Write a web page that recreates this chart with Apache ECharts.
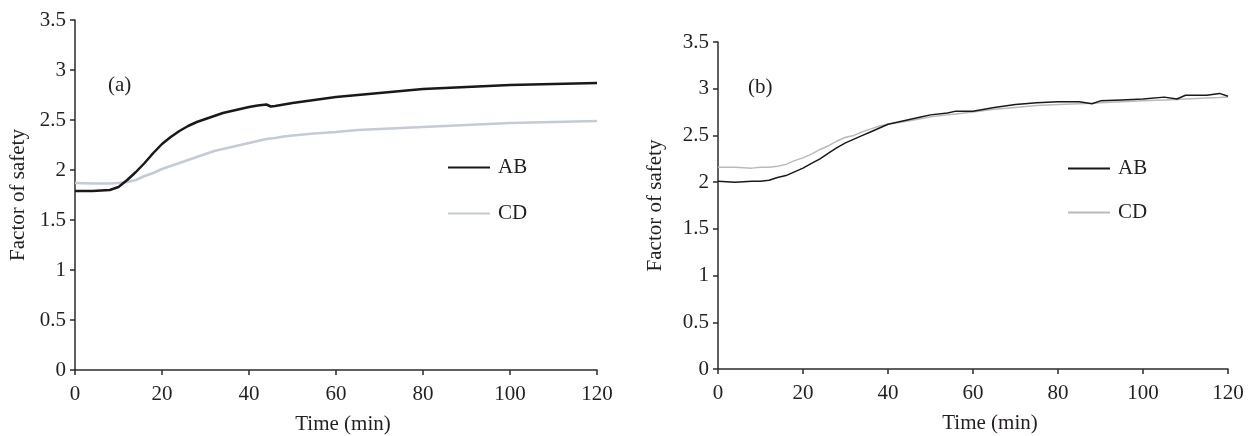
<!DOCTYPE html>
<html>
<head>
<meta charset="utf-8">
<script src="https://cdn.jsdelivr.net/npm/echarts@6/dist/echarts.min.js"></script>
<style>
html, body { margin: 0; background: #fff; }
#main { width: 1249px; height: 436px; }
</style>
</head>
<body>
<div id="main"></div>
<script>
// (a)
var timeA = [0, 4, 8, 10, 12, 14, 16, 18, 20, 22, 24, 26, 28, 30, 32, 34, 36, 38, 40, 42, 44, 45, 46, 48, 50, 55, 60, 65, 70, 75, 80, 85, 90, 95, 100, 105, 110, 115, 120];
var abA = [1.79, 1.79, 1.80, 1.83, 1.90, 1.98, 2.07, 2.17, 2.26, 2.33, 2.39, 2.44, 2.48, 2.51, 2.54, 2.57, 2.59, 2.61, 2.63, 2.645, 2.655, 2.635, 2.64, 2.655, 2.67, 2.70, 2.73, 2.75, 2.77, 2.79, 2.81, 2.82, 2.83, 2.84, 2.85, 2.855, 2.86, 2.865, 2.87];
var cdA = [1.87, 1.865, 1.865, 1.87, 1.88, 1.90, 1.94, 1.97, 2.01, 2.04, 2.07, 2.10, 2.13, 2.16, 2.19, 2.21, 2.23, 2.25, 2.27, 2.29, 2.31, 2.315, 2.32, 2.335, 2.345, 2.365, 2.38, 2.40, 2.41, 2.42, 2.43, 2.44, 2.45, 2.46, 2.47, 2.475, 2.48, 2.485, 2.49];

// (b)
var timeB = [0, 4, 8, 10, 12, 14, 16, 18, 20, 22, 24, 26, 28, 30, 32, 34, 36, 38, 40, 44, 48, 50, 54, 56, 60, 65, 70, 75, 80, 85, 88, 90, 95, 100, 105, 108, 110, 115, 118, 120];
var abB = [2.01, 2.00, 2.01, 2.01, 2.02, 2.05, 2.07, 2.11, 2.15, 2.20, 2.25, 2.31, 2.37, 2.42, 2.46, 2.50, 2.54, 2.58, 2.62, 2.66, 2.70, 2.72, 2.74, 2.76, 2.76, 2.80, 2.83, 2.85, 2.86, 2.86, 2.84, 2.87, 2.88, 2.89, 2.91, 2.89, 2.93, 2.93, 2.95, 2.92];
var cdB = [2.16, 2.16, 2.15, 2.16, 2.16, 2.17, 2.19, 2.23, 2.26, 2.30, 2.35, 2.39, 2.44, 2.48, 2.50, 2.54, 2.57, 2.60, 2.62, 2.65, 2.68, 2.70, 2.72, 2.73, 2.75, 2.78, 2.80, 2.82, 2.83, 2.84, 2.845, 2.85, 2.86, 2.87, 2.88, 2.885, 2.89, 2.90, 2.905, 2.91];

var seriesNames = ['AB', 'CD'];
var panelLabels = ['(a)', '(b)'];
var xName = 'Time (min)';
var yName = 'Factor of safety';

var FONT = 'Liberation Serif';
var FS = 21;
var TXT = '#231f20';
var AXIS = '#2b2b2b';
var BLACK = '#1c1718';
var BLUEGREY = '#c3cbd6';
var GREY = '#bababa';

function pairs(xs, ys) {
    return xs.map(function (x, i) { return [x, ys[i]]; });
}

function xAx(grid, shift) {
    return {
        type: 'value', gridIndex: grid, min: 0, max: 120, interval: 20,
        name: xName, nameLocation: 'middle', nameGap: 44,
        nameTextStyle: { fontFamily: FONT, fontSize: FS, color: TXT, padding: [0, 0, 0, shift] },
        axisLine: { show: true, lineStyle: { color: AXIS, width: 1.5 } },
        axisTick: { show: true, length: 5, lineStyle: { color: AXIS, width: 1.5 } },
        axisLabel: { margin: 14, fontFamily: FONT, fontSize: FS, color: TXT },
        splitLine: { show: false }
    };
}

function yAx(grid, gap) {
    return {
        type: 'value', gridIndex: grid, min: 0, max: 3.5, interval: 0.5,
        name: yName, nameLocation: 'middle', nameGap: gap,
        nameTextStyle: { fontFamily: FONT, fontSize: FS, color: TXT },
        axisLine: { show: true, lineStyle: { color: AXIS, width: 1.5 } },
        axisTick: { show: true, length: 5, lineStyle: { color: AXIS, width: 1.5 } },
        axisLabel: { margin: 9, fontFamily: FONT, fontSize: FS, color: TXT },
        splitLine: { show: false }
    };
}

function legendAt(left, top, gap, cdColor) {
    return {
        left: left, top: top, orient: 'vertical', icon: 'rect',
        itemWidth: 42, itemHeight: 2, itemGap: gap, selectedMode: false,
        textStyle: { fontFamily: FONT, fontSize: FS, color: TXT, lineHeight: 20, padding: [0, 0, 0, 3] },
        data: [
            { name: seriesNames[0], itemStyle: { color: BLACK } },
            { name: seriesNames[1], itemStyle: { color: cdColor } }
        ]
    };
}

function line(name, grid, data, color, width) {
    return {
        name: name, type: 'line', xAxisIndex: grid, yAxisIndex: grid,
        data: data, symbol: 'none', smooth: false,
        lineStyle: { color: color, width: width }, itemStyle: { color: color }
    };
}

var chart = echarts.init(document.getElementById('main'));
chart.setOption({
    animation: false,
    backgroundColor: '#fff',
    grid: [
        { left: 75, right: 652, top: 20, bottom: 66, outerBoundsMode: 'none', containLabel: false },
        { left: 718, right: 21, top: 42, bottom: 67, outerBoundsMode: 'none', containLabel: false }
    ],
    xAxis: [xAx(0, 14), xAx(1, 34)],
    yAxis: [yAx(0, 46), yAx(1, 52)],
    legend: [legendAt(443, 152, 25, BLUEGREY), legendAt(1063, 153, 23, GREY)],
    graphic: [
        { type: 'text', left: 108, top: 75, style: { text: panelLabels[0], font: FS + 'px "' + FONT + '"', fill: TXT } },
        { type: 'text', left: 748, top: 77, style: { text: panelLabels[1], font: FS + 'px "' + FONT + '"', fill: TXT } }
    ],
    series: [
        line(seriesNames[1], 0, pairs(timeA, cdA), BLUEGREY, 2.5),
        line(seriesNames[0], 0, pairs(timeA, abA), BLACK, 2.5),
        line(seriesNames[1], 1, pairs(timeB, cdB), GREY, 1.5),
        line(seriesNames[0], 1, pairs(timeB, abB), BLACK, 1.5)
    ]
});
</script>
</body>
</html>
